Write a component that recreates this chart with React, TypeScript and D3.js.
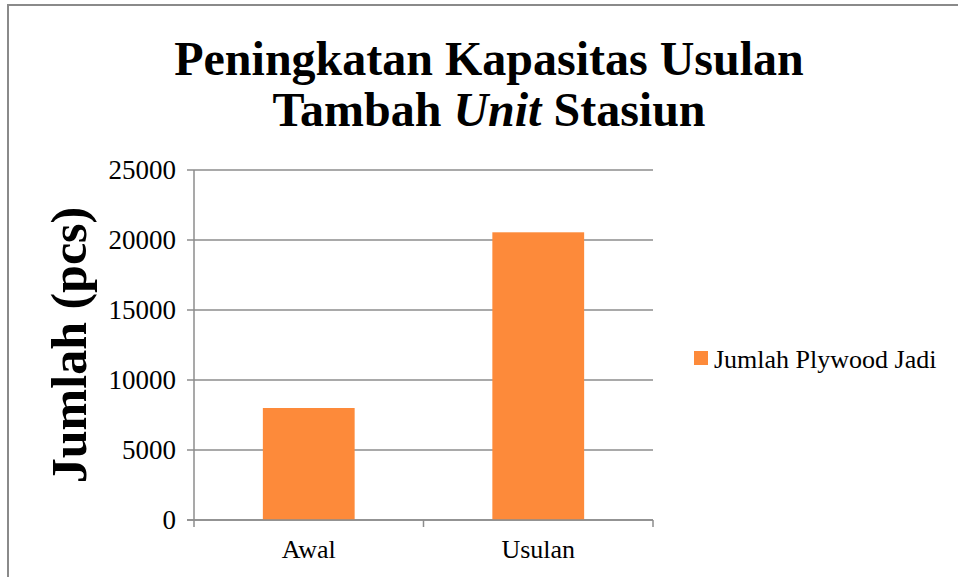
import { useEffect, useRef } from "react";
import * as d3 from "d3";

const categories = ["Awal", "Usulan"];
const plywoodJadi = [8000, 20550];
const yTicks = [0, 5000, 10000, 15000, 20000, 25000];
const titleLines = ["Peningkatan Kapasitas Usulan", "Tambah |Unit| Stasiun"];
const seriesName = "Jumlah Plywood Jadi";

const W = 958;
const H = 577;
const BAR_COLOR = "#fd8a3a";
const GRID = "#8c8c8c";

export default function App() {
  const svgRef = useRef<SVGSVGElement>(null);

  useEffect(() => {
    if (!svgRef.current) return;
    const svg = d3.select(svgRef.current);
    svg.selectAll("*").remove();

    const font = "'Liberation Serif', 'Times New Roman', serif";
    const plot = { left: 194, right: 653, top: 170, bottom: 520 };

    // chart frame
    svg
      .append("path")
      .attr("d", `M8,${H} L8,5 L${W},5`)
      .attr("fill", "none")
      .attr("stroke", "#8a8a8a")
      .attr("stroke-width", 2);

    const x = d3
      .scaleBand<string>()
      .domain(categories)
      .range([plot.left, plot.right])
      .paddingInner(0.6)
      .paddingOuter(0.3);
    const y = d3.scaleLinear().domain([0, 25000]).range([plot.bottom, plot.top]);

    // gridlines + y ticks
    svg
      .append("g")
      .selectAll("line")
      .data(yTicks)
      .enter()
      .append("line")
      .attr("x1", plot.left - 7)
      .attr("x2", plot.right)
      .attr("y1", (d) => y(d))
      .attr("y2", (d) => y(d))
      .attr("stroke", GRID)
      .attr("stroke-width", 1.5);

    svg
      .append("g")
      .selectAll("text")
      .data(yTicks)
      .enter()
      .append("text")
      .attr("x", plot.left - 18)
      .attr("y", (d) => y(d) + 9)
      .attr("text-anchor", "end")
      .attr("font-family", font)
      .attr("font-size", 27)
      .attr("fill", "#000")
      .text((d) => String(d));

    // bars
    svg
      .append("g")
      .selectAll("rect")
      .data(plywoodJadi)
      .enter()
      .append("rect")
      .attr("x", (_, i) => x(categories[i])!)
      .attr("width", x.bandwidth())
      .attr("y", (d) => y(d))
      .attr("height", (d) => y(0) - y(d))
      .attr("fill", BAR_COLOR);

    // axes lines
    svg
      .append("line")
      .attr("x1", plot.left)
      .attr("x2", plot.left)
      .attr("y1", plot.top)
      .attr("y2", plot.bottom)
      .attr("stroke", GRID)
      .attr("stroke-width", 1.5);
    svg
      .append("line")
      .attr("x1", plot.left - 7)
      .attr("x2", plot.right)
      .attr("y1", plot.bottom)
      .attr("y2", plot.bottom)
      .attr("stroke", GRID)
      .attr("stroke-width", 1.5);

    const xTickPos = [plot.left, (plot.left + plot.right) / 2, plot.right];
    svg
      .append("g")
      .selectAll("line")
      .data(xTickPos)
      .enter()
      .append("line")
      .attr("x1", (d) => d)
      .attr("x2", (d) => d)
      .attr("y1", plot.bottom)
      .attr("y2", plot.bottom + 7)
      .attr("stroke", GRID)
      .attr("stroke-width", 1.5);

    svg
      .append("g")
      .selectAll("text")
      .data(categories)
      .enter()
      .append("text")
      .attr("x", (d) => x(d)! + x.bandwidth() / 2)
      .attr("y", 558)
      .attr("text-anchor", "middle")
      .attr("font-family", font)
      .attr("font-size", 26)
      .attr("fill", "#000")
      .text((d) => d);

    // title, |...| marks italic segments
    titleLines.forEach((line, li) => {
      const t = svg
        .append("text")
        .attr("x", 489)
        .attr("y", 75 + li * 51)
        .attr("text-anchor", "middle")
        .attr("font-family", font)
        .attr("font-size", 48)
        .attr("font-weight", "bold")
        .attr("fill", "#000");
      line.split("|").forEach((part, pi) => {
        t.append("tspan")
          .attr("font-style", pi % 2 === 1 ? "italic" : "normal")
          .text(part);
      });
    });

    // y axis title
    svg
      .append("text")
      .attr("transform", "translate(86,345) rotate(-90)")
      .attr("text-anchor", "middle")
      .attr("font-family", font)
      .attr("font-size", 50)
      .attr("font-weight", "bold")
      .attr("fill", "#000")
      .text("Jumlah (pcs)");

    // legend
    svg
      .append("rect")
      .attr("x", 694)
      .attr("y", 351)
      .attr("width", 14)
      .attr("height", 14)
      .attr("fill", BAR_COLOR);
    svg
      .append("text")
      .attr("x", 714)
      .attr("y", 368)
      .attr("font-family", font)
      .attr("font-size", 26)
      .attr("fill", "#000")
      .text(seriesName);
  }, []);

  return (
    <svg
      ref={svgRef}
      width={W}
      height={H}
      style={{ position: "absolute", left: 0, top: 0, background: "#fff" }}
    />
  );
}
